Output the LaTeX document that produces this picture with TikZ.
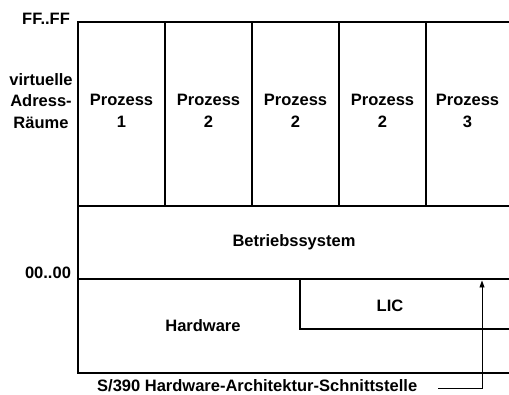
\documentclass[tikz,border=0pt]{standalone}
\usepackage{fontspec}
\setmainfont{Liberation Sans}
\usetikzlibrary{arrows.meta}
\begin{document}
\begin{tikzpicture}[x=1pt,y=-1pt,
  frame/.style={line width=2pt,line join=miter},
  lbl/.style={font=\bfseries\fontsize{16.5}{21.5}\selectfont,align=center,inner sep=0pt},
  arrowline/.style={line width=0.9pt,-{Triangle[length=7pt,width=5pt]}}]
\useasboundingbox (0,0) rectangle (509,395);
% frame
\draw[frame] (509,22) -- (78,22) -- (78,373) -- (509,373);
\draw[frame] (78,206) -- (509,206);
\draw[frame] (78,279) -- (509,279);
\draw[frame] (509,329) -- (300,329) -- (300,279);
\foreach \x in {165,252,339,426} \draw[frame] (\x,22) -- (\x,206);
% labels
\node[lbl] (ff) at (46,18.5) {FF..FF};
\node[lbl] (va) at (41,101) {virtuelle\\Adress-\\Räume};
\node[lbl] (p1) at (121.5,111) {Prozess\\1};
\node[lbl] (p2) at (208.5,111) {Prozess\\2};
\node[lbl] (p3) at (295.5,111) {Prozess\\2};
\node[lbl] (p4) at (382.5,111) {Prozess\\2};
\node[lbl] (p5) at (467.5,111) {Prozess\\3};
\node[lbl] (bs) at (294,242) {Betriebssystem};
\node[lbl] (zz) at (48,272.5) {00..00};
\node[lbl] (lic) at (390,306) {LIC};
\node[lbl] (hw) at (203,326) {Hardware};
\node[lbl,anchor=west] (iface) at (97,386) {S/390 Hardware-Architektur-Schnittstelle};
\coordinate (ifstart) at (438,388);
\coordinate (tip) at (482,280.5);
\draw[arrowline] (ifstart) -| (tip);
\end{tikzpicture}
\end{document}
